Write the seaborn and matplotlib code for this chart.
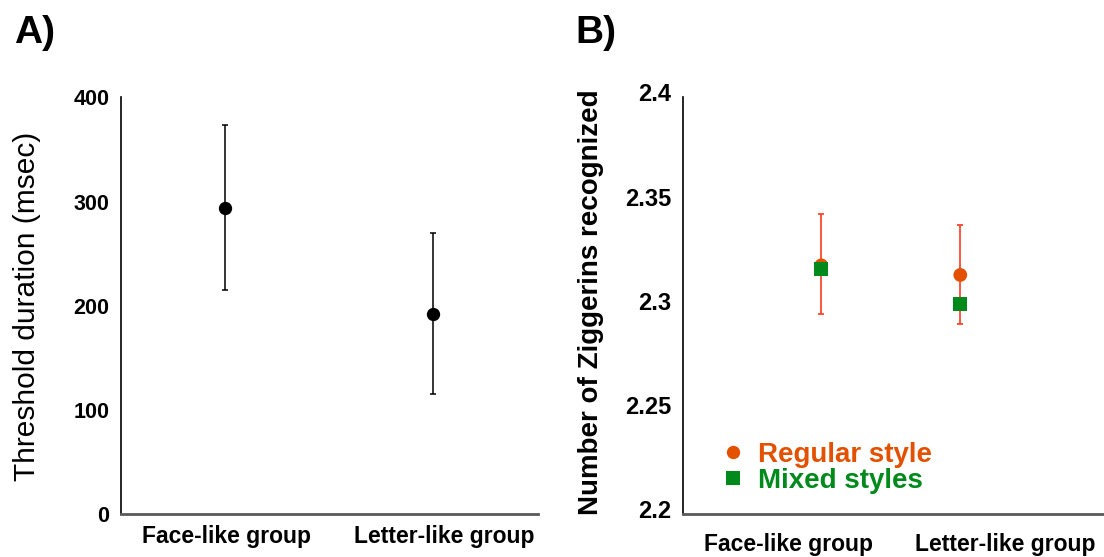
import matplotlib
matplotlib.use("Agg")
import matplotlib.pyplot as plt
import matplotlib.transforms as mtransforms
from matplotlib.lines import Line2D
import seaborn as sns
import pandas as pd

# Panel A: threshold durations
groups = ["Face-like group", "Letter-like group"]
threshold_mean = [294, 192]
threshold_low = [215, 115]
threshold_high = [373, 270]
threshold_ticks = [0, 100, 200, 300, 400]

# Panel B: number of Ziggerins recognized
styles = ["Regular style", "Mixed styles"]
regular_mean = [2.3194, 2.3148]
regular_low = [2.2961, 2.2911]
regular_high = [2.3439, 2.3389]
mixed_mean = [2.3177, 2.3010]
recog_ticks = [2.2, 2.25, 2.3, 2.35, 2.4]
recog_ticklabels = ["2.2", "2.25", "2.3", "2.35", "2.4"]

ORANGE = "#e35100"
RED = "#ff3b1f"
GREEN = "#008a1c"

sns.set_style("white")
plt.rcParams["font.family"] = ["Liberation Sans", "DejaVu Sans"]
plt.rcParams["text.color"] = "black"
plt.rcParams["axes.labelcolor"] = "black"
plt.rcParams["xtick.color"] = "black"
plt.rcParams["ytick.color"] = "black"

W, H = 1104, 557
fig = plt.figure(figsize=(W / 100, H / 100), dpi=100)
axA = fig.add_axes([120.7 / W, 1 - 514.3 / H, 417 / W, 417 / H])
axB = fig.add_axes([682.7 / W, 1 - 514.3 / H, 421.3 / W, 417 / H])


def style_axis(ax, ysize, xsize, xpad):
    for side in ("top", "right"):
        ax.spines[side].set_visible(False)
    ax.spines["left"].set_color("black")
    ax.spines["left"].set_linewidth(1.2)
    ax.spines["bottom"].set_color("#5a5a5a")
    ax.spines["bottom"].set_linewidth(2.0)
    ax.tick_params(axis="y", direction="in", length=5, width=1.0, color="black",
                   pad=8.3, labelsize=ysize)
    ax.tick_params(axis="x", length=0, labelsize=xsize, pad=xpad)
    for lbl in ax.get_yticklabels() + ax.get_xticklabels():
        lbl.set_fontweight("bold")


# ---- Panel A ----
dfA = pd.DataFrame({"group": groups, "value": threshold_mean})
sns.scatterplot(data=dfA, x="group", y="value", ax=axA, color="black",
                s=92, linewidth=0, zorder=3, legend=False)
errA = [[m - lo for m, lo in zip(threshold_mean, threshold_low)],
        [hi - m for m, hi in zip(threshold_mean, threshold_high)]]
axA.errorbar(range(len(groups)), threshold_mean, yerr=errA, fmt="none",
             ecolor="black", elinewidth=1.1, capsize=2.5, capthick=1.1, zorder=2)
axA.set_xlim(-0.5, 1.5)
axA.set_ylim(0, 400)
axA.set_yticks(threshold_ticks)
axA.set_xticks([0.008, 1.054])
axA.set_xticklabels(groups)
axA.set_xlabel("")
style_axis(axA, 15.5, 16.5, 8)
axA.set_ylabel("Threshold duration (msec)", fontsize=21.5)
axA.yaxis.set_label_coords(-0.190, 0.498)

# ---- Panel B ----
dfB = pd.DataFrame({
    "group": groups * 2,
    "value": regular_mean + mixed_mean,
    "style": [styles[0]] * 2 + [styles[1]] * 2,
})
errB = [[m - lo for m, lo in zip(regular_mean, regular_low)],
        [hi - m for m, hi in zip(regular_mean, regular_high)]]
axB.errorbar(range(len(groups)), regular_mean, yerr=errB, fmt="none",
             ecolor=RED, elinewidth=1.2, capsize=2.3, capthick=1.2, zorder=2)
sns.scatterplot(data=dfB, x="group", y="value", hue="style", style="style",
                palette={styles[0]: ORANGE, styles[1]: GREEN},
                markers={styles[0]: "o", styles[1]: "s"},
                s=98, linewidth=0, ax=axB, zorder=3, legend=False)
axB.set_xlim(-0.997, 2.034)
axB.set_ylim(2.2, 2.4)
axB.set_yticks(recog_ticks)
axB.set_yticklabels(recog_ticklabels)
axB.set_xticks([-0.235, 1.325])
axB.set_xticklabels(groups)
axB.set_xlabel("")
style_axis(axB, 17, 16.5, 13.5)
axB.tick_params(axis="y", pad=8)
# tick labels on this panel sit a little above their ticks
lift = mtransforms.ScaledTranslation(0, 5 / 100, fig.dpi_scale_trans)
for lbl in axB.get_yticklabels():
    lbl.set_transform(lbl.get_transform() + lift)
axB.set_ylabel("Number of Ziggerins recognized", fontsize=20, fontweight="bold")
axB.yaxis.set_label_coords(-0.186, 0.508)

handles = [
    Line2D([], [], marker="o", linestyle="none", markersize=9.6,
           markerfacecolor=ORANGE, markeredgewidth=0),
    Line2D([], [], marker="s", linestyle="none", markersize=9.6,
           markerfacecolor=GREEN, markeredgewidth=0),
]
leg = axB.legend(handles, styles, loc="upper left",
                 bbox_to_anchor=(0.054, 0.2), frameon=False,
                 handletextpad=0.3, labelspacing=0.0, handlelength=1.2,
                 borderaxespad=0, prop={"weight": "bold", "size": 20})
for txt, col in zip(leg.get_texts(), [ORANGE, GREEN]):
    txt.set_color(col)

fig.text(14 / W, 1 - 42.8 / H, "A)", fontsize=28, fontweight="bold")
fig.text(575.6 / W, 1 - 42.8 / H, "B)", fontsize=28, fontweight="bold")

fig.savefig("out.png", dpi=100, facecolor="white")
